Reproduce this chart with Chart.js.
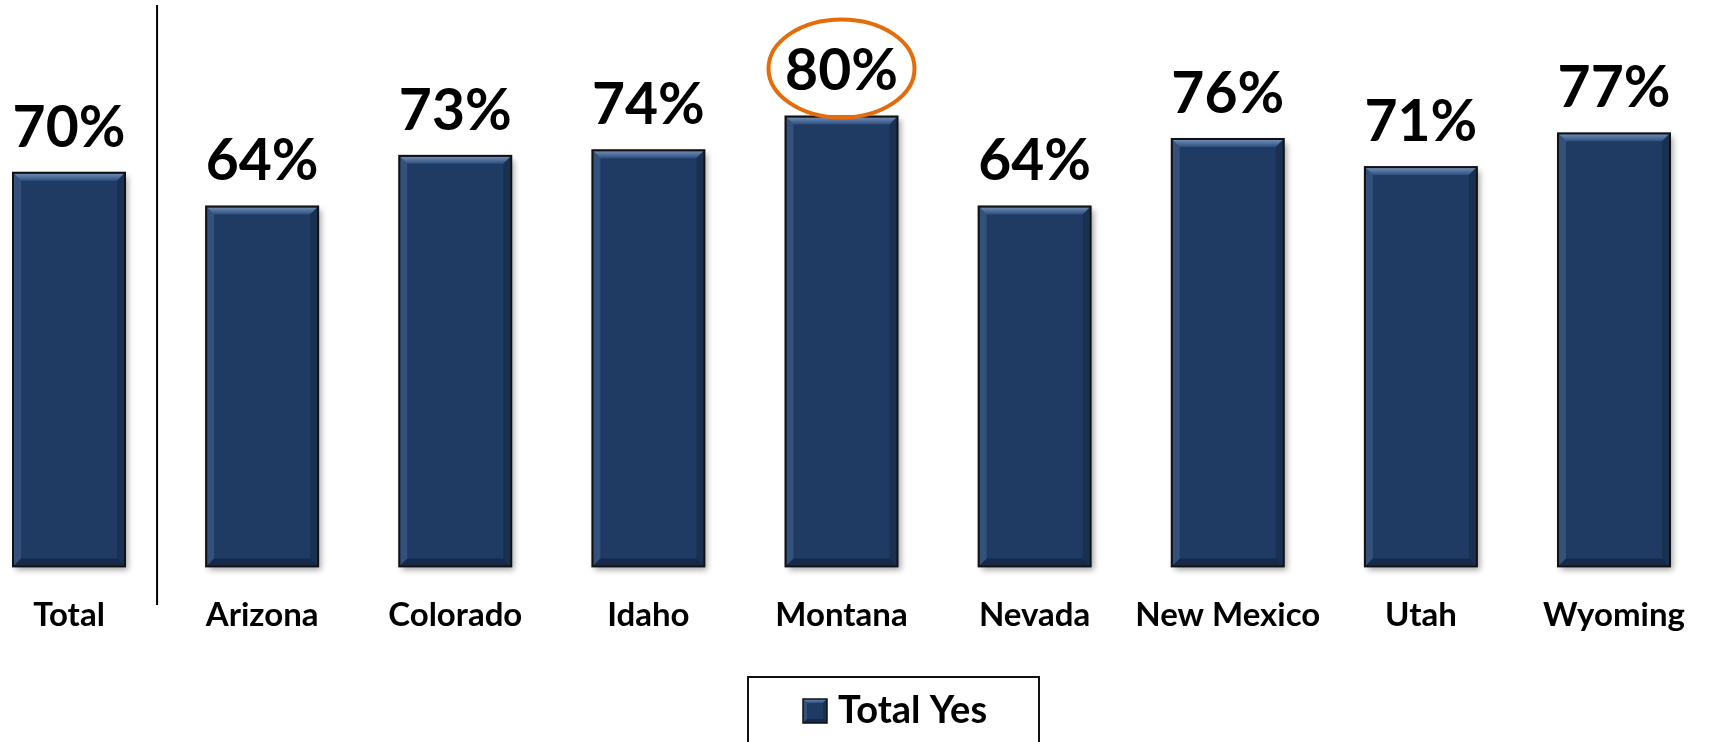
<!DOCTYPE html>
<html>
<head>
<meta charset="utf-8">
<script src="https://cdn.jsdelivr.net/npm/chart.js@4.4.1/dist/chart.umd.min.js"></script>
<style>
  html, body { margin: 0; padding: 0; background: #fff; }
  #wrap { width: 1714px; height: 742px; }
</style>
</head>
<body>
<div id="wrap"><canvas id="myChart" width="1714" height="742"></canvas></div>
<script>
const categories = ["Total", "Arizona", "Colorado", "Idaho", "Montana", "Nevada", "New Mexico", "Utah", "Wyoming"];
const totalYes = [70, 64, 73, 74, 80, 64, 76, 71, 77];
const seriesName = "Total Yes";
const circled = ["Montana"];

const FONT = "Lato, 'Open Sans', sans-serif";
const NAVY = "#1f3b63";

// bevelled fill used on bars and the legend swatch
const bevel = (ctx, x, y, w, h, d) => {
  ctx.save();
  // top edge
  let g = ctx.createLinearGradient(0, y, 0, y + d);
  g.addColorStop(0, "#6d8bb5");
  g.addColorStop(1, "#2f4f7c");
  ctx.fillStyle = g;
  ctx.beginPath();
  ctx.moveTo(x, y); ctx.lineTo(x + w, y); ctx.lineTo(x + w - d, y + d); ctx.lineTo(x + d, y + d);
  ctx.closePath(); ctx.fill();
  // sides
  ctx.fillStyle = "rgba(70,100,145,0.55)";
  ctx.beginPath();
  ctx.moveTo(x, y); ctx.lineTo(x + d, y + d); ctx.lineTo(x + d, y + h - d); ctx.lineTo(x, y + h);
  ctx.closePath(); ctx.fill();
  ctx.fillStyle = "rgba(20,35,60,0.45)";
  ctx.beginPath();
  ctx.moveTo(x + w, y); ctx.lineTo(x + w - d, y + d); ctx.lineTo(x + w - d, y + h - d); ctx.lineTo(x + w, y + h);
  ctx.closePath(); ctx.fill();
  // bottom edge
  ctx.fillStyle = "rgba(10,20,40,0.45)";
  ctx.beginPath();
  ctx.moveTo(x, y + h); ctx.lineTo(x + d, y + h - d); ctx.lineTo(x + w - d, y + h - d); ctx.lineTo(x + w, y + h);
  ctx.closePath(); ctx.fill();
  ctx.restore();
};

const barDecor = {
  id: "barDecor",
  beforeDatasetsDraw(chart) {
    const ctx = chart.ctx;
    ctx.save();
    ctx.shadowColor = "rgba(0,0,0,0.35)";
    ctx.shadowBlur = 6;
    ctx.shadowOffsetX = 3;
    ctx.shadowOffsetY = 4;
    ctx.fillStyle = "#ffffff";
    chart.getDatasetMeta(0).data.forEach((bar) => {
      const w = bar.width;
      ctx.fillRect(bar.x - w / 2, bar.y, w, bar.base - bar.y);
    });
    ctx.restore();
  },
  afterDatasetsDraw(chart) {
    const ctx = chart.ctx;
    const meta = chart.getDatasetMeta(0);
    meta.data.forEach((bar, i) => {
      const w = bar.width;
      bevel(ctx, bar.x - w / 2 + 1, bar.y + 1, w - 2, bar.base - bar.y - 2, 7);
      ctx.save();
      ctx.strokeStyle = "#111";
      ctx.lineWidth = 2;
      ctx.strokeRect(bar.x - w / 2, bar.y, w, bar.base - bar.y);
      ctx.restore();

      // value label
      ctx.save();
      ctx.font = `bold 57px ${FONT}`;
      ctx.fillStyle = "#000";
      ctx.textAlign = "center";
      ctx.textBaseline = "alphabetic";
      ctx.fillText(totalYes[i] + "%", bar.x, bar.y - 26);
      ctx.restore();

      if (circled.includes(categories[i])) {
        ctx.save();
        ctx.strokeStyle = "#e46c0a";
        ctx.lineWidth = 4;
        ctx.beginPath();
        ctx.ellipse(bar.x, bar.y - 48, 73, 49, 0, 0, Math.PI * 2);
        ctx.stroke();
        ctx.restore();
      }
    });

    // separator between the total and the states
    const xs = chart.scales.x;
    const sepX = xs.getPixelForValue(0) + 0.456 * (xs.getPixelForValue(1) - xs.getPixelForValue(0));
    ctx.save();
    ctx.strokeStyle = "#000";
    ctx.lineWidth = 2;
    ctx.beginPath();
    ctx.moveTo(sepX, 5);
    ctx.lineTo(sepX, 605);
    ctx.stroke();
    ctx.restore();

    // legend box
    ctx.save();
    ctx.strokeStyle = "#111";
    ctx.lineWidth = 2;
    ctx.strokeRect(748, 677, 291, 90);
    ctx.fillStyle = NAVY;
    ctx.fillRect(803, 699, 24, 24);
    bevel(ctx, 803, 699, 24, 24, 4);
    ctx.strokeStyle = "#111";
    ctx.lineWidth = 1.5;
    ctx.strokeRect(803, 699, 24, 24);
    ctx.font = `bold 38px ${FONT}`;
    ctx.fillStyle = "#000";
    ctx.textAlign = "left";
    ctx.textBaseline = "middle";
    ctx.fillText(seriesName, 838, 711);
    ctx.restore();
  }
};

const ctx = document.getElementById("myChart").getContext("2d");
new Chart(ctx, {
  type: "bar",
  data: {
    labels: categories,
    datasets: [
      {
        label: seriesName,
        data: totalYes,
        backgroundColor: NAVY,
        borderWidth: 0,
        barThickness: 112,
        clip: false,
      },
    ],
  },
  options: {
    responsive: false,
    animation: false,
    events: [],
    layout: {
      padding: { left: 69, right: 93, top: 4, bottom: 78 },
    },
    scales: {
      x: {
        offset: false,
        grid: { display: false, drawTicks: false },
        border: { display: false },
        ticks: {
          color: "#000",
          padding: 29,
          maxRotation: 0,
          autoSkip: false,
          font: { family: FONT, size: 33, weight: "bold" },
        },
      },
      y: {
        display: false,
        min: 0,
        max: 100,
      },
    },
    plugins: {
      legend: { display: false },
      tooltip: { enabled: false },
    },
  },
  plugins: [barDecor],
});
</script>
</body>
</html>
